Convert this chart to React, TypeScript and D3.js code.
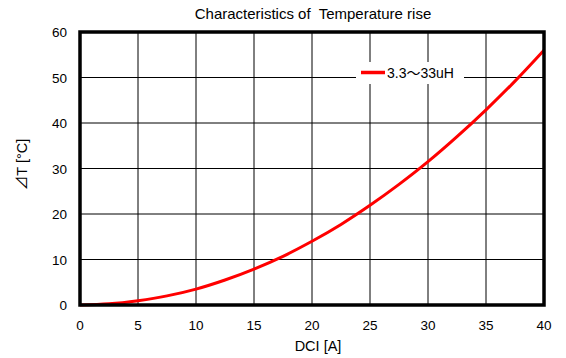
import React from "react";
import * as d3 from "d3";

const currentA = [0, 2.5, 5, 7.5, 10, 12.5, 15, 17.5, 20, 22.5, 25, 27.5, 30, 32.5, 35, 37.5, 40];
const deltaT = [0, 0.25, 0.95, 2, 3.5, 5.5, 7.9, 10.7, 14, 17.7, 21.9, 26.5, 31.5, 37, 42.9, 49.2, 56];
const xTicks = [0, 5, 10, 15, 20, 25, 30, 35, 40];
const yTicks = [0, 10, 20, 30, 40, 50, 60];
const seriesName = "3.3～33uH";
const title = "Characteristics of  Temperature rise";
const xTitle = "DCI [A]";
const yTitle = "⊿T [°C]";

export default function App() {
  const W = 566, H = 358;
  const L = 80, R = 544, T = 32, B = 305;
  const x = d3.scaleLinear().domain([0, 40]).range([L, R]);
  const y = d3.scaleLinear().domain([0, 60]).range([B, T]);
  const line = d3.line<number>()
    .x((_, i) => x(currentA[i]))
    .y((d) => y(d))
    .curve(d3.curveMonotoneX);
  const font = "'Liberation Sans', Arial, 'Noto Sans CJK JP', sans-serif";
  return (
    <svg width={W} height={H} style={{ position: "absolute", left: 0, top: 0, background: "#fff" }} fontFamily={font}>
      <rect x={0} y={0} width={W} height={H} fill="#fff" />
      {xTicks.slice(1, -1).map((t) => (
        <line key={"gx" + t} x1={x(t)} x2={x(t)} y1={T} y2={B} stroke="#000" strokeWidth={1} />
      ))}
      {yTicks.slice(1, -1).map((t) => (
        <line key={"gy" + t} x1={L} x2={R} y1={y(t)} y2={y(t)} stroke="#000" strokeWidth={1} />
      ))}
      <rect x={356} y={62} width={108} height={22} fill="#fff" />
      <line x1={361} x2={385} y1={72.5} y2={72.5} stroke="#ff0000" strokeWidth={3.5} />
      <text x={387} y={77.5} fontSize={14} fill="#000" fontFamily="'Liberation Sans', 'Noto Sans CJK JP', sans-serif">{seriesName}</text>
      <path d={line(deltaT) || ""} fill="none" stroke="#ff0000" strokeWidth={3} />
      <rect x={L} y={T} width={R - L} height={B - T} fill="none" stroke="#000" strokeWidth={3.5} />
      {xTicks.map((t) => (
        <text key={"xt" + t} x={x(t)} y={330} fontSize={13.5} textAnchor="middle" fill="#000">{t}</text>
      ))}
      {yTicks.map((t) => (
        <text key={"yt" + t} x={67} y={y(t) + 5} fontSize={13.5} textAnchor="end" fill="#000">{t}</text>
      ))}
      <text x={313} y={19} fontSize={15} textAnchor="middle" fill="#000" style={{ whiteSpace: "pre" }}>{title}</text>
      <text x={318} y={351} fontSize={14.5} textAnchor="middle" fill="#000">{xTitle}</text>
      <text transform={`translate(27,${(T + B) / 2 - 4}) rotate(-90)`} fontSize={14.5} textAnchor="middle" fill="#000">{yTitle}</text>
    </svg>
  );
}
